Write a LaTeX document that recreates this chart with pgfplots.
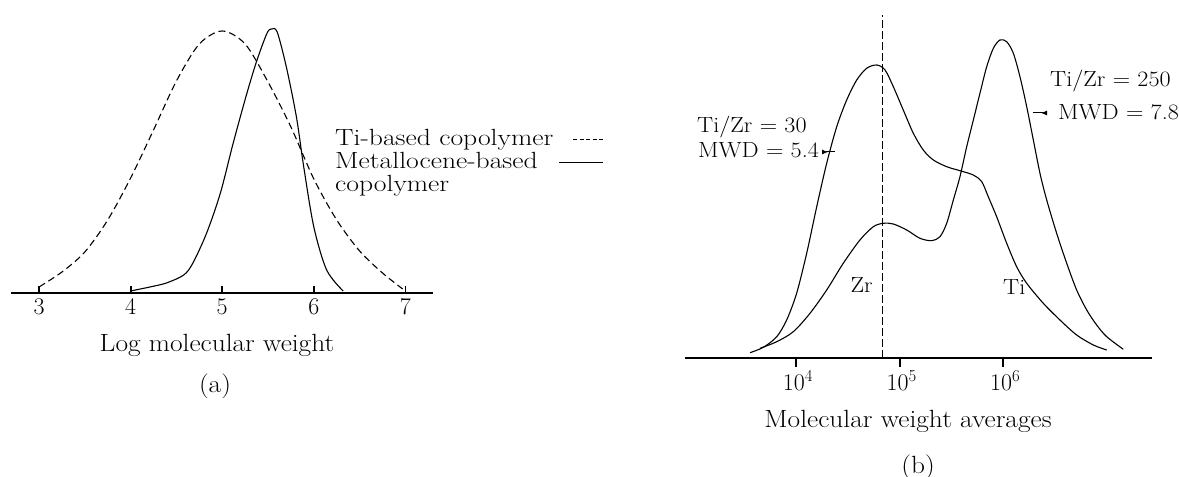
\documentclass[border=0pt]{standalone}
\usepackage{pgfplots}
\pgfplotsset{compat=1.18}
\usetikzlibrary{arrows.meta}

\newcommand\labfont{\fontsize{25}{30}\selectfont}
\newcommand\legfont{\fontsize{23.5}{27}\selectfont}
\newcommand\annfont{\fontsize{22}{26}\selectfont}
% slightly wider setting of the serif text
\newcommand\wide[1]{\scalebox{1.1}[1]{#1}}
\newcommand\wider[1]{\scalebox{1.18}[1]{#1}}

\begin{document}
\begin{tikzpicture}
\useasboundingbox (0,0) rectangle (1179bp,477bp);

% ---------------- (a) log molecular weight distributions ----------------
\begin{axis}[
  at={(11bp,184bp)}, anchor=south west,
  scale only axis, width=422bp, height=270bp,
  xmin=2.694, xmax=7.301, ymin=0, ymax=270,
  axis x line=bottom, axis y line=none,
  x axis line style={-, line width=1.8bp},
  xtick={3,4,5,6,7}, xticklabels={3,4,5,6,7},
  tick align=inside, major tick length=7bp,
  tick style={black, line width=1.8bp},
  xticklabel style={font=\fontsize{24}{28}\selectfont, yshift=-2bp},
  clip=false,
]
% Ti-based copolymer
\addplot[black, line width=1.1bp, dash pattern=on 7bp off 4bp, smooth] coordinates {
  (3.00,6) (3.25,21) (3.50,41) (3.75,73) (4.00,115) (4.25,163) (4.50,212)
  (4.75,249) (5.00,262) (5.25,249) (5.50,211) (5.75,166) (6.00,114)
  (6.25,73) (6.50,42) (6.75,20) (6.97,4)
};
% metallocene-based copolymer
\addplot[black, line width=1.1bp, smooth] coordinates {
  (4.00,2) (4.21,6) (4.39,10) (4.58,18) (4.68,30) (4.83,60) (4.98,100)
  (5.12,150) (5.27,200) (5.38,233) (5.49,260) (5.54,264) (5.60,261)
  (5.70,226) (5.81,176) (5.89,126) (6.00,66) (6.14,23) (6.32,2)
};
\end{axis}

\node[anchor=base, font=\labfont] at (217bp,125bp) {\wide{Log molecular weight}};
\node[anchor=base, font=\labfont] at (215bp,84bp) {\wide{(a)}};

\node[anchor=base west, inner sep=0, font=\legfont] at (335bp,331bp) {\wider{Ti-based copolymer}};
\node[anchor=base west, inner sep=0, font=\legfont] at (335bp,308bp) {\wider{Metallocene-based}};
\node[anchor=base west, inner sep=0, font=\legfont] at (335bp,285bp) {\wider{copolymer}};
\draw[line width=1bp, dash pattern=on 4bp off 2.5bp] (573bp,337bp) -- (605bp,337bp);
\draw[line width=1bp] (559bp,314bp) -- (603bp,314bp);

% ---------------- (b) molecular weight averages ----------------
\begin{axis}[
  at={(685bp,119bp)}, anchor=south west,
  scale only axis, width=467bp, height=350bp,
  xmin=2.929, xmax=7.435, ymin=0, ymax=350,
  axis x line=bottom, axis y line=none,
  x axis line style={-, line width=1.8bp},
  xtick={4,5,6},
  xticklabels={10\textsuperscript{4},10\textsuperscript{5},10\textsuperscript{6}},
  tick align=outside, major tick length=9bp,
  tick style={black, line width=1.8bp},
  xticklabel style={font=\fontsize{24}{28}\selectfont, xshift=2bp},
  clip=false,
]
% Ti/Zr = 30
\addplot[black, line width=1.1bp, smooth] coordinates {
  (3.556,5.3) (3.685,10.7) (3.814,21.3) (3.910,38) (4.006,64.7) (4.103,104.7)
  (4.200,151.3) (4.296,194.7) (4.393,231.3) (4.489,258) (4.586,278)
  (4.682,289.7) (4.779,293) (4.859,288) (4.939,271.3) (5.035,248)
  (5.132,224.7) (5.228,208) (5.325,198) (5.454,191.3) (5.582,187.3)
  (5.711,183) (5.792,176.3) (5.855,161.3) (5.936,141.3) (6.033,114.7)
  (6.129,91.3) (6.226,74.7) (6.386,54.7) (6.547,38) (6.708,23) (6.869,13)
  (6.998,8)
};
% Ti/Zr = 250
\addplot[black, line width=1.1bp, smooth] coordinates {
  (3.653,9.7) (3.814,16.3) (3.974,26.3) (4.135,44.7) (4.296,68) (4.456,94.7)
  (4.617,118) (4.746,131.3) (4.842,134.7) (4.939,134) (5.068,128)
  (5.196,119.7) (5.309,117.3) (5.389,121.3) (5.454,134.7) (5.518,158)
  (5.582,181.3) (5.647,211.3) (5.711,238) (5.775,264.7) (5.840,291.3)
  (5.904,309.7) (5.968,318) (6.033,316.3) (6.097,304.7) (6.161,281.3)
  (6.226,251.3) (6.290,218) (6.354,184.7) (6.419,158) (6.515,124.7)
  (6.612,94.7) (6.708,68) (6.805,48) (6.901,33) (6.998,21.3) (7.158,8.7)
};
% Zr reference line
\addplot[black, line width=1.6bp, dash pattern=on 8bp off 3bp] coordinates {
  (4.836,0) (4.836,343)
};
\end{axis}

\node[anchor=base west, inner sep=0, font=\annfont] at (697bp,344bp) {\wide{Ti/Zr = 30}};
\node[anchor=base west, inner sep=0, font=\annfont] at (698bp,319bp) {\wide{MWD = 5.4}};
\draw[{Latex[reversed,length=6bp,width=5bp]}-, line width=1bp] (822bp,325bp) -- (835bp,325bp);
\node[anchor=base west, inner sep=0, font=\annfont] at (1050bp,390bp) {\wide{Ti/Zr = 250}};
\node[anchor=base west, inner sep=0, font=\annfont] at (1058bp,357bp) {\wide{MWD = 7.8}};
\draw[-{Latex[reversed,length=6bp,width=5bp]}, line width=1bp] (1033bp,364bp) -- (1047bp,364bp);
\node[anchor=base, inner sep=0, font=\annfont] at (861.7bp,184bp) {\wide{Zr}};
\node[anchor=base west, inner sep=0, font=\annfont] at (1003bp,182bp) {\wide{Ti}};

\node[anchor=base, font=\labfont] at (908bp,49bp) {\wide{Molecular weight averages}};
\node[anchor=base, font=\labfont] at (918bp,4bp) {\wide{(b)}};
\end{tikzpicture}
\end{document}
